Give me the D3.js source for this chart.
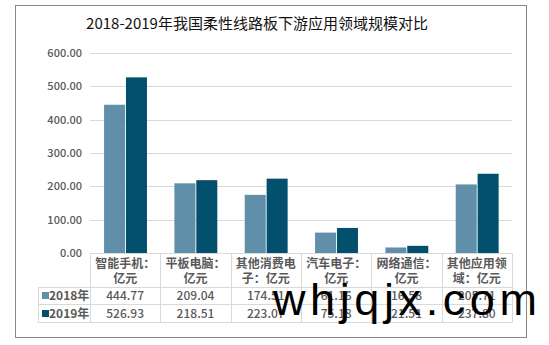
<!DOCTYPE html>
<html><head><meta charset="utf-8">
<script src="https://cdn.jsdelivr.net/npm/d3@7"></script>
<style>body{margin:0;background:#fff}svg{display:block}</style>
</head><body>
<script>
const categories = ["智能手机：亿元","平板电脑：亿元","其他消费电子：亿元","汽车电子：亿元","网络通信：亿元","其他应用领域：亿元"];
const categoryLines = [["智能手机：","亿元"],["平板电脑：","亿元"],["其他消费电","子：亿元"],["汽车电子：","亿元"],["网络通信：","亿元"],["其他应用领","域：亿元"]];
const seriesNames = ["2018年","2019年"];
const values2018 = [444.77, 209.04, 174.51, 61.16, 16.58, 205.71];
const values2019 = [526.93, 218.51, 223.07, 75.18, 21.51, 237.80];
const yTicks = [0,100,200,300,400,500,600];
const colors = ["#5f8fa9","#03506e"];
const title = "2018-2019年我国柔性线路板下游应用领域规模对比";

(function(){
const W = 549, H = 345;
const svg = d3.select("body").append("svg").attr("width", W).attr("height", H);
const font = "'Noto Sans CJK SC','Noto Sans',sans-serif";
const grey = "#595959", lineC = "#d9d9d9";

svg.append("rect").attr("x",15.5).attr("y",5.5).attr("width",511).attr("height",332)
  .attr("fill","#fff").attr("stroke","#888").attr("stroke-width",1);

svg.append("text").attr("x",257).attr("y",29).attr("text-anchor","middle")
  .attr("font-family",font).attr("font-size",15).attr("fill","#111").text(title);

const pLeft = 90, pRight = 512, pTop = 53, pBottom = 253;
const x = d3.scaleBand().domain(categories).range([pLeft,pRight]);
const x1 = d3.scaleBand().domain(seriesNames).range([x.bandwidth()*0.2, x.bandwidth()*0.81]).paddingInner(0.04);
const y = d3.scaleLinear().domain([0,600]).range([pBottom, pTop]);

svg.append("g").selectAll("line").data(yTicks).join("line")
  .attr("x1",pLeft).attr("x2",pRight)
  .attr("y1",d=>Math.round(y(d))+0.5).attr("y2",d=>Math.round(y(d))+0.5)
  .attr("stroke",lineC);

const yAxis = d3.axisLeft(y).tickValues(yTicks).tickFormat(d3.format(".2f")).tickSize(0).tickPadding(8);
const ga = svg.append("g").attr("transform",`translate(${pLeft},0)`).call(yAxis);
ga.select(".domain").remove();
ga.selectAll("text").attr("font-family",font).attr("font-size",11).attr("fill",grey).attr("font-weight",500);

const data = [values2018, values2019];
const gs = svg.append("g").selectAll("g").data(categories).join("g")
  .attr("transform",d=>`translate(${x(d)},0)`);
gs.selectAll("rect").data((d,i)=>seriesNames.map((s,j)=>({s, v:data[j][i], j})))
  .join("rect")
  .attr("x",d=>x1(d.s)).attr("width",x1.bandwidth())
  .attr("y",d=>y(d.v)).attr("height",d=>y(0)-y(d.v))
  .attr("fill",d=>colors[d.j]);

const rowTop = pBottom, hdrBottom = 287.5, r1 = 304.5, r2 = 322.5, legLeft = 38.5;
const tg = svg.append("g").attr("stroke",lineC).attr("stroke-width",1);
[hdrBottom, r1, r2].forEach(yy=>{
  tg.append("line").attr("x1",legLeft).attr("x2",pRight).attr("y1",yy).attr("y2",yy);
});
const bounds = categories.map(c=>x(c)).concat([pRight]);
tg.selectAll("line.v").data(bounds).join("line").attr("class","v")
  .attr("x1",d=>Math.round(d)+0.5).attr("x2",d=>Math.round(d)+0.5)
  .attr("y1",rowTop).attr("y2",r2);
tg.append("line").attr("x1",legLeft).attr("x2",legLeft).attr("y1",hdrBottom).attr("y2",r2);

const hg = svg.append("g").attr("font-family",font).attr("font-size",12).attr("font-weight",600).attr("fill",grey).attr("text-anchor","middle");
categories.forEach((c,i)=>{
  categoryLines[i].forEach((ln,k)=>{
    hg.append("text").attr("x",x(c)+x.bandwidth()/2).attr("y",268+k*15).text(ln);
  });
});
const rowY = [300, 318];
seriesNames.forEach((s,j)=>{
  svg.append("rect").attr("x",42).attr("y",rowY[j]-8).attr("width",7).attr("height",7).attr("fill",colors[j]);
  svg.append("text").attr("x",49).attr("y",rowY[j]).attr("font-family",font).attr("font-size",12).attr("font-weight",600).attr("fill",grey).text(s);
  svg.append("g").selectAll("text").data(categories).join("text")
    .attr("x",d=>x(d)+x.bandwidth()/2).attr("y",rowY[j]).attr("text-anchor","middle")
    .attr("font-family",font).attr("font-size",12).attr("font-weight",500).attr("fill",grey)
    .text((d,i)=>data[j][i].toFixed(2));
});

svg.append("text").attr("x",273).attr("y",315).attr("font-family","'Liberation Sans',Arial,sans-serif")
  .attr("font-size",45).attr("fill","#000").attr("textLength",264).attr("lengthAdjust","spacing").text("whjqjx.com");
})();
</script>
</body></html>
